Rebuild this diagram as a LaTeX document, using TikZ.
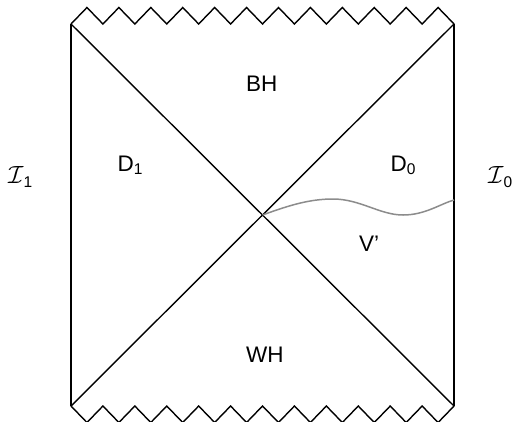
\documentclass[tikz,border=0pt]{standalone}
\usepackage{fontspec}
\setmainfont{Liberation Sans}
\newcommand\lowsub[2]{\raisebox{-#1}{\fontsize{15.5}{16}\selectfont #2}}
\begin{document}
\begin{tikzpicture}[x=1pt,y=-1pt,
  edge/.style={line width=1.4pt, black, line join=miter},
  curve/.style={line width=1.5pt, gray!90!white},
  lbl/.style={inner sep=0pt, anchor=base west, font=\fontsize{22.5}{27}\selectfont},
  scri/.style={inner sep=0pt, anchor=base west, font=\fontsize{30}{30}\selectfont}]
\useasboundingbox (0,0) rectangle (518,421);
\coordinate (TL) at (71,24);
\coordinate (TR) at (454,24);
\coordinate (BL) at (71,406);
\coordinate (BR) at (454,406);
\coordinate (C) at (262.5,215);
\coordinate (R) at (454,200);
% sides and diagonals
\draw[edge] (TL) -- (BL);
\draw[edge] (TR) -- (BR);
\draw[edge] (TL) -- (BR);
\draw[edge] (TR) -- (BL);
% singular zigzags
\draw[edge] (TL) \foreach \i in {1,...,12} { -- ++(15.96,-16.5) -- ++(15.96,16.5) };
\draw[edge] (BL) \foreach \i in {1,...,12} { -- ++(15.96,16.5) -- ++(15.96,-16.5) };
% gray curve
\draw[curve] (C) .. controls (290,205) and (310,199) .. (333,199)
  .. controls (360,199) and (380,215) .. (403,215)
  .. controls (425,215) and (440,204) .. (R);
% labels
\node[lbl] (bh) at (246,91.5) {BH};
\node[lbl] (wh) at (246,362) {WH};
\node[lbl] (d1) at (117.5,171) {D\lowsub{3pt}{1}};
\node[lbl] (d0) at (390.5,171) {D\lowsub{3pt}{0}};
\node[lbl] (vp) at (359,251) {V’};
\node[scri] (i1) at (8,183) {$\mathcal{I}$\lowsub{4pt}{1}};
\node[scri] (i0) at (488,183) {$\mathcal{I}$\lowsub{4pt}{0}};
\end{tikzpicture}
\end{document}
